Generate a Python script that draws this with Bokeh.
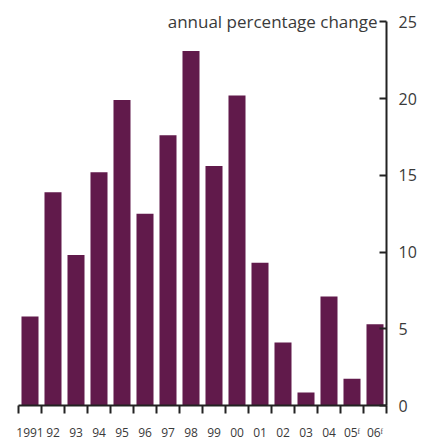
from bokeh.plotting import figure
from bokeh.models import Range1d, FixedTicker, Label, ColumnDataSource
from bokeh.embed import file_html
from bokeh.resources import INLINE

years = ["1991", "92", "93", "94", "95", "96", "97", "98", "99", "00", "01", "02", "03", "04", "05ᶠ", "06ᶠ"]
values = [5.8, 13.9, 9.8, 15.2, 19.9, 12.5, 17.6, 23.1, 15.6, 20.2, 9.3, 4.1, 0.85, 7.1, 1.75, 5.3]
y_ticks = [0, 5, 10, 15, 20, 25]
title_text = "annual percentage change"

FONT = "Open Sans"
BAR = "#611a4b"
INK = "#222222"
TXT = "#3a3a3a"

n = len(years)
xs = list(range(1, n + 1))
src = ColumnDataSource(dict(x=xs, top=values))

p = figure(frame_width=368, frame_height=396, output_backend="svg", toolbar_location=None,
           x_range=Range1d(0.5, n + 0.5), y_range=Range1d(0, 25.8),
           y_axis_location="right", min_border_left=18, min_border_top=9,
           min_border_right=10, min_border_bottom=5)
p.outline_line_color = None
p.grid.grid_line_color = None
p.background_fill_color = "white"

p.vbar(x="x", top="top", width=0.74, bottom=0, source=src, fill_color=BAR, line_color=None)

xa = p.xaxis[0]
xa.ticker = FixedTicker(ticks=xs, minor_ticks=[i + 0.5 for i in range(0, n + 1)])
xa.major_label_overrides = {x: y for x, y in zip(xs, years)}
xa.major_tick_out = 0
xa.major_tick_in = 0
xa.minor_tick_out = 8
xa.minor_tick_in = 0
xa.minor_tick_line_width = 2
xa.minor_tick_line_color = INK
xa.axis_line_width = 2
xa.axis_line_color = INK
xa.major_label_standoff = 10
xa.major_label_text_font = FONT
xa.major_label_text_font_size = "12px"
xa.major_label_text_color = TXT

ya = p.yaxis[0]
ya.ticker = FixedTicker(ticks=y_ticks, minor_ticks=[])
ya.bounds = (0, 25)
ya.major_tick_in = 7
ya.major_tick_out = 0
ya.major_tick_line_width = 2
ya.major_tick_line_color = INK
ya.minor_tick_in = 0
ya.minor_tick_out = 0
ya.axis_line_width = 2
ya.axis_line_color = INK
ya.major_label_standoff = 12
ya.major_label_text_font = FONT
ya.major_label_text_font_size = "16px"
ya.major_label_text_color = TXT

p.add_layout(Label(x=n + 0.5, y=25, x_offset=-9, text=title_text, text_align="right",
                   text_baseline="middle", text_font=FONT, text_font_size="17px",
                   text_color=TXT))

open("out.html", "w").write(file_html(p, INLINE))
